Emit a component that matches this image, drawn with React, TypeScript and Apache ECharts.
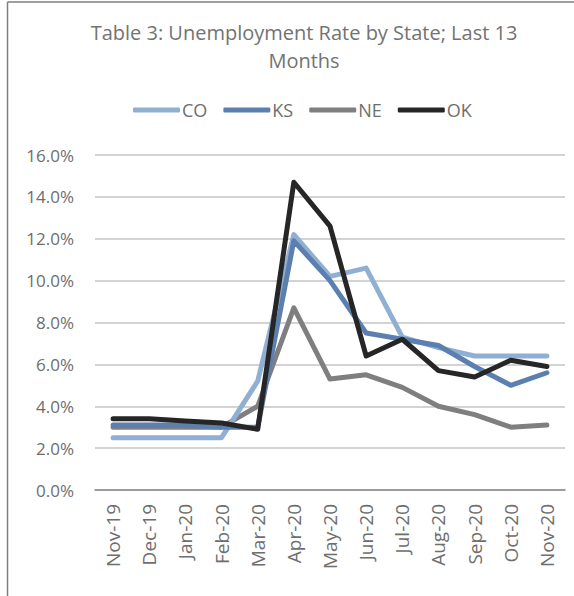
import React, { useEffect, useRef } from "react";
import * as echarts from "echarts";

const months = ["Nov-19", "Dec-19", "Jan-20", "Feb-20", "Mar-20", "Apr-20", "May-20", "Jun-20", "Jul-20", "Aug-20", "Sep-20", "Oct-20", "Nov-20"];
const co = [2.5, 2.5, 2.5, 2.5, 5.2, 12.2, 10.2, 10.6, 7.3, 6.8, 6.4, 6.4, 6.4];
const ks = [3.1, 3.1, 3.1, 3.0, 3.0, 11.9, 10.0, 7.5, 7.2, 6.9, 5.9, 5.0, 5.6];
const ne = [3.0, 3.0, 3.0, 3.0, 4.0, 8.7, 5.3, 5.5, 4.9, 4.0, 3.6, 3.0, 3.1];
const ok = [3.4, 3.4, 3.3, 3.2, 2.9, 14.7, 12.6, 6.4, 7.2, 5.7, 5.4, 6.2, 5.9];
const yTicks = [0, 2, 4, 6, 8, 10, 12, 14, 16];

const FONT = "'Open Sans', sans-serif";
const TEXT = "#6e6e6e";

export default function App() {
  const ref = useRef<HTMLDivElement>(null);
  useEffect(() => {
    if (!ref.current) return;
    const chart = echarts.init(ref.current, undefined, { renderer: "svg" });
    const mk = (name: string, data: number[], color: string) => ({
      name,
      type: "line",
      data,
      symbol: "none",
      smooth: false,
      lineStyle: { color, width: 5, cap: "round", join: "round" },
      itemStyle: { color },
    });
    chart.setOption({
      animation: false,
      backgroundColor: "#ffffff",
      title: {
        text: "Table 3: Unemployment Rate by State; Last 13\nMonths",
        left: 299,
        top: 13,
        textAlign: "center",
        textStyle: { fontFamily: FONT, fontSize: 20, fontWeight: "normal", color: "#737373", lineHeight: 28 },
      },
      legend: {
        left: 128,
        top: 96,
        icon: "roundRect",
        itemWidth: 47,
        itemHeight: 5,
        itemGap: 16,
        textStyle: { fontFamily: FONT, fontSize: 18, color: TEXT, padding: [0, 0, 0, -3] },
        data: ["CO", "KS", "NE", "OK"],
      },
      grid: { left: 95, right: 9, top: 155, bottom: 106 },
      xAxis: {
        type: "category",
        data: months,
        boundaryGap: true,
        axisLine: { show: true, lineStyle: { color: "#8a8a8a", width: 1.5 } },
        axisTick: { show: false },
        axisLabel: { rotate: 90, margin: 14, fontFamily: FONT, fontSize: 19, color: TEXT },
      },
      yAxis: {
        type: "value",
        min: yTicks[0],
        max: yTicks[yTicks.length - 1],
        interval: 2,
        axisLine: { show: false },
        axisTick: { show: false },
        splitLine: { lineStyle: { color: "#c4c4c4", width: 1.5 } },
        axisLabel: {
          margin: 21,
          fontFamily: FONT,
          fontSize: 17,
          color: TEXT,
          formatter: (v: number) => v.toFixed(1) + "%",
        },
      },
      graphic: [
        { type: "line", shape: { x1: 7.5, y1: 2, x2: 574, y2: 2 }, style: { stroke: "#7f7f7f", lineWidth: 1.5 } },
        { type: "line", shape: { x1: 7.5, y1: 2, x2: 7.5, y2: 596 }, style: { stroke: "#7f7f7f", lineWidth: 1.5 } },
      ],
      series: [
        mk("NE", ne, "#7f7f7f"),
        mk("CO", co, "#8fb0d2"),
        mk("KS", ks, "#5b80b0"),
        mk("OK", ok, "#262626"),
      ],
    });
    return () => chart.dispose();
  }, []);
  return <div ref={ref} style={{ position: "fixed", left: 0, top: 0, width: 574, height: 596 }} />;
}
